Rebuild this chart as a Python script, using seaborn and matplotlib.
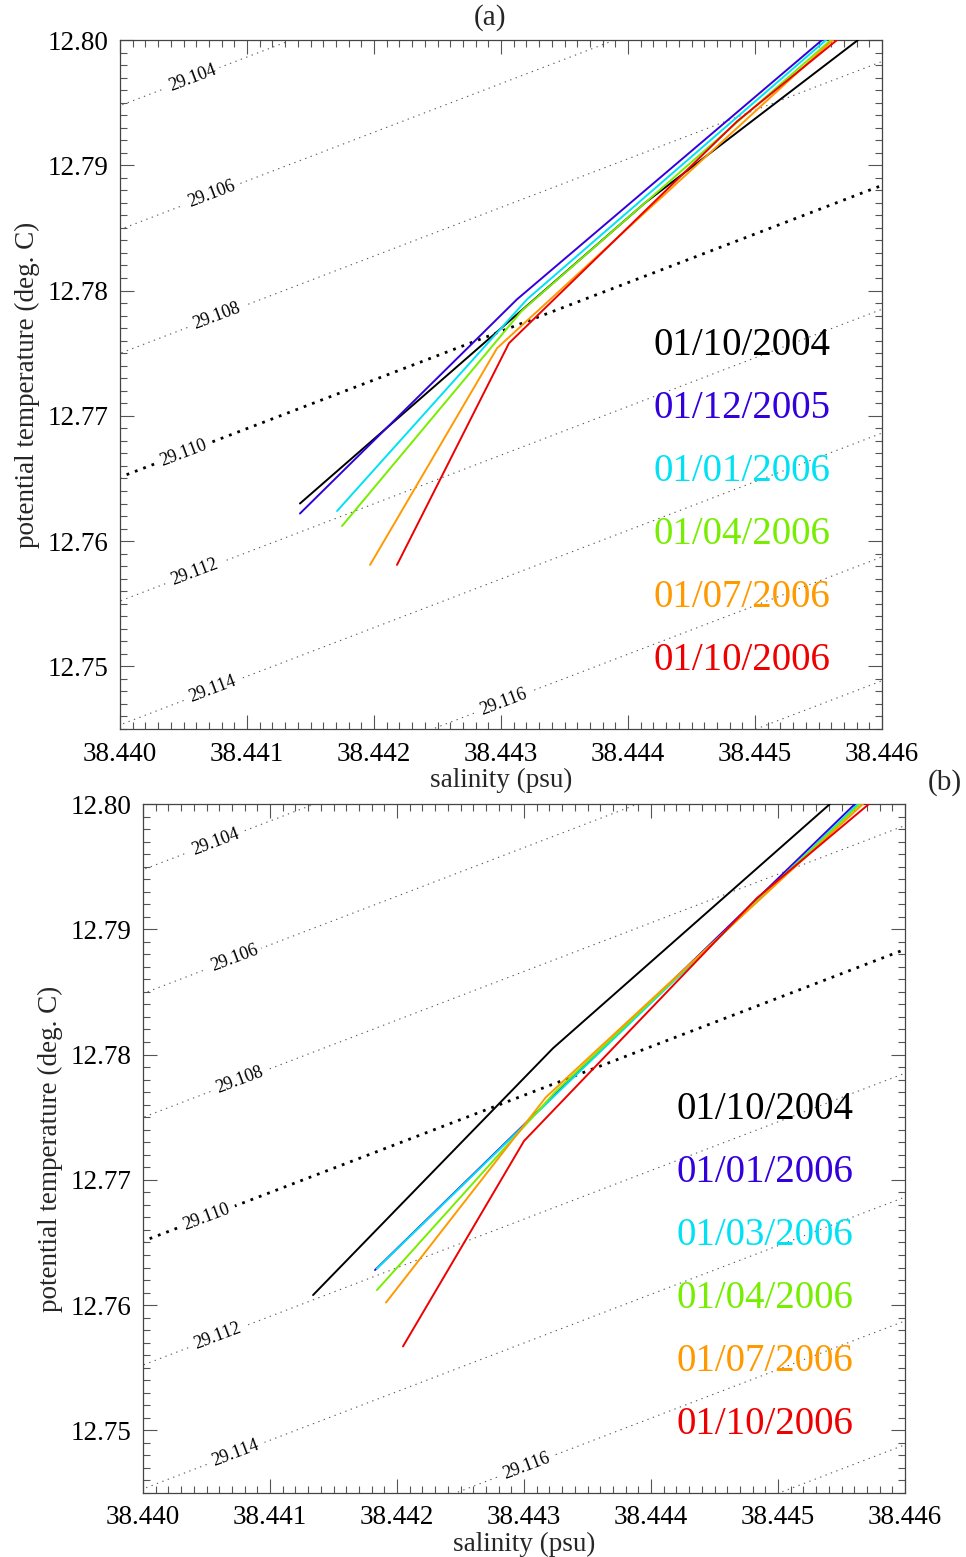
import numpy as np
import pandas as pd
import matplotlib
matplotlib.use("Agg")
import matplotlib.pyplot as plt
import seaborn as sns
from matplotlib.ticker import MultipleLocator, FormatStrFormatter

# ---------------------------------------------------------------------------
# Profiles, panel (a): salinity (psu) and potential temperature (deg C)
# ---------------------------------------------------------------------------
A_DATES = ["01/10/2004", "01/12/2005", "01/01/2006", "01/04/2006", "01/07/2006", "01/10/2006"]

a_oct04_sal = [38.441417, 38.444134, 38.445811]
a_oct04_tht = [12.7630, 12.7870, 12.8000]
a_dec05_sal = [38.441417, 38.443126, 38.445528]
a_dec05_tht = [12.7622, 12.7793, 12.8000]
a_jan06_sal = [38.441709, 38.443205, 38.445559]
a_jan06_tht = [12.7624, 12.7793, 12.8000]
a_apr06_sal = [38.441748, 38.443165, 38.445598]
a_apr06_tht = [12.7612, 12.7784, 12.8000]
a_jul06_sal = [38.441969, 38.442969, 38.445614]
a_jul06_tht = [12.7581, 12.7754, 12.8000]
a_oct06_sal = [38.442181, 38.443063, 38.444858, 38.445646]
a_oct06_tht = [12.7581, 12.7758, 12.7935, 12.8000]

# ---------------------------------------------------------------------------
# Profiles, panel (b)
# ---------------------------------------------------------------------------
B_DATES = ["01/10/2004", "01/01/2006", "01/03/2006", "01/04/2006", "01/07/2006", "01/10/2006"]

b_oct04_sal = [38.441339, 38.443228, 38.445409]
b_oct04_tht = [12.7608, 12.7805, 12.8000]
b_jan06_sal = [38.441827, 38.443283, 38.445606]
b_jan06_tht = [12.7628, 12.7772, 12.8000]
b_mar06_sal = [38.441840, 38.443300, 38.445630]
b_mar06_tht = [12.7629, 12.7773, 12.8000]
b_apr06_sal = [38.441842, 38.443244, 38.445646]
b_apr06_tht = [12.7612, 12.7770, 12.8000]
b_jul06_sal = [38.441913, 38.443173, 38.445669]
b_jul06_tht = [12.7602, 12.7766, 12.8000]
b_oct06_sal = [38.442047, 38.443000, 38.444835, 38.445716]
b_oct06_tht = [12.7567, 12.7731, 12.7925, 12.8000]

LINE_COLORS = ["#000000", "#3300dd", "#00e2f4", "#77ee00", "#ff9900", "#ee0000"]

# Linearised potential density (sigma-theta) around the reference state
SIGMA_REF = 29.110
S_REF = 38.440
T_REF = 12.7651
HALINE = 0.7855     # d sigma / dS
THERMAL = 0.2023    # -d sigma / d theta
THIN_LEVELS = [29.104, 29.106, 29.108, 29.112, 29.114, 29.116, 29.118]
BOLD_LEVEL = 29.110
LABEL_LEVELS = [29.104, 29.106, 29.108, 29.112, 29.114, 29.116]
LABEL_SAL = [38.44057, 38.44072, 38.44076, 38.44059, 38.44073, 38.44302]
BOLD_LABEL_SAL = 38.44050

XLIM = (38.440, 38.446)
YLIM = (12.745, 12.800)

SERIF = ["Liberation Serif", "DejaVu Serif"]


def sigma(s, t):
    return SIGMA_REF + HALINE * (s - S_REF) - THERMAL * (t - T_REF)


def theta_on(level, s):
    return T_REF + (HALINE * (s - S_REF) - (level - SIGMA_REF)) / THERMAL


def profiles_frame(dates, sal_lists, tht_lists):
    rows = []
    for d, ss, tt in zip(dates, sal_lists, tht_lists):
        for s, t in zip(ss, tt):
            rows.append({"date": d, "S": s, "theta": t})
    return pd.DataFrame(rows)


sns.set_theme(style="ticks")
plt.rcParams["font.family"] = SERIF
plt.rcParams["mathtext.fontset"] = "stix"

fig = plt.figure(figsize=(9.66, 15.57), dpi=100)
W, H = 966.0, 1557.0
ax_a = fig.add_axes([120 / W, 1 - 729 / H, 762 / W, 689 / H])
ax_b = fig.add_axes([143 / W, 1 - 1493 / H, 762 / W, 689 / H])

sg = np.linspace(XLIM[0] - 0.0005, XLIM[1] + 0.0005, 240)
tg = np.linspace(YLIM[0] - 0.005, YLIM[1] + 0.005, 240)
SG, TG = np.meshgrid(sg, tg)
RHO = sigma(SG, TG)


def draw_panel(ax, dates, sal_lists, tht_lists):
    # isopycnals
    cs = ax.contour(SG, TG, RHO, levels=THIN_LEVELS, colors="#5a5a5a", linewidths=0.8)
    cs.set_linestyle((0, (1.2, 4.0)))
    cb = ax.contour(SG, TG, RHO, levels=[BOLD_LEVEL], colors="black", linewidths=2.0)
    cb.set_linestyle((0, (1.0, 2.2)))
    manual = [(s, theta_on(l, s)) for l, s in zip(LABEL_LEVELS, LABEL_SAL)]
    ax.clabel(cs, levels=LABEL_LEVELS, manual=manual, fmt="%.3f", fontsize=13,
              colors="black", inline=True, inline_spacing=2)
    ax.clabel(cb, manual=[(BOLD_LABEL_SAL, theta_on(BOLD_LEVEL, BOLD_LABEL_SAL))],
              fmt="%.3f", fontsize=13, colors="black", inline=True, inline_spacing=2)

    df = profiles_frame(dates, sal_lists, tht_lists)
    sns.lineplot(data=df, x="S", y="theta", hue="date", hue_order=dates,
                 palette=LINE_COLORS, sort=False, estimator=None, legend=False,
                 linewidth=1.4, ax=ax, zorder=3)

    # coloured date list
    for i, (d, c) in enumerate(zip(dates, LINE_COLORS)):
        ax.text(0.6995, 0.5565 - i * 0.0914, d, transform=ax.transAxes,
                color=c, fontsize=28, ha="left", va="center", zorder=5)

    ax.set_xlim(*XLIM)
    ax.set_ylim(*YLIM)
    ax.xaxis.set_major_locator(MultipleLocator(0.001))
    ax.xaxis.set_minor_locator(MultipleLocator(0.0001))
    ax.yaxis.set_major_locator(MultipleLocator(0.01))
    ax.yaxis.set_minor_locator(MultipleLocator(0.001))
    ax.xaxis.set_major_formatter(FormatStrFormatter("%.3f"))
    ax.yaxis.set_major_formatter(FormatStrFormatter("%.2f"))
    ax.tick_params(which="both", direction="in", top=True, right=True,
                   color="#555555", width=0.8, labelsize=19.5, labelcolor="black")
    ax.tick_params(which="major", length=10, pad=8)
    ax.tick_params(axis="x", which="major", pad=9)
    ax.tick_params(which="minor", length=5)
    for sp in ax.spines.values():
        sp.set_color("#444444")
        sp.set_linewidth(0.9)
    ax.set_xlabel("salinity (psu)", fontsize=19.5, labelpad=1)
    ax.set_ylabel("potential temperature (deg. C)", fontsize=19.5, labelpad=6)


draw_panel(ax_a, A_DATES,
           [a_oct04_sal, a_dec05_sal, a_jan06_sal, a_apr06_sal, a_jul06_sal, a_oct06_sal],
           [a_oct04_tht, a_dec05_tht, a_jan06_tht, a_apr06_tht, a_jul06_tht, a_oct06_tht])
draw_panel(ax_b, B_DATES,
           [b_oct04_sal, b_jan06_sal, b_mar06_sal, b_apr06_sal, b_jul06_sal, b_oct06_sal],
           [b_oct04_tht, b_jan06_tht, b_mar06_tht, b_apr06_tht, b_jul06_tht, b_oct06_tht])

fig.text(490 / W, 1 - 18 / H, "(a)", ha="center", va="center", fontsize=21)
fig.text(945 / W, 1 - 783 / H, "(b)", ha="center", va="center", fontsize=21)

fig.savefig("out.png", dpi=100)
